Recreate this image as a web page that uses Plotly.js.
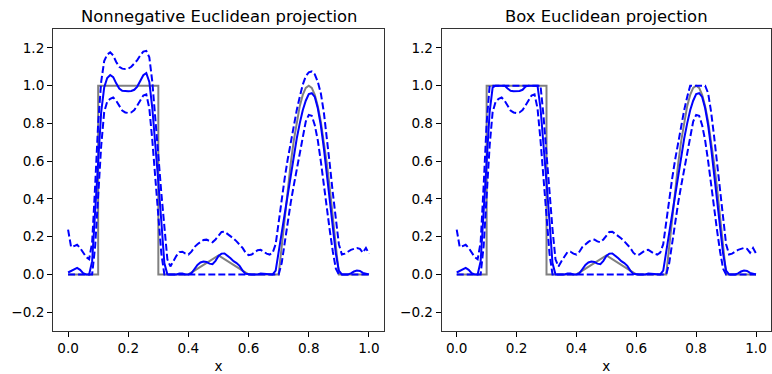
<!DOCTYPE html>
<html>
<head>
<meta charset="utf-8">
<script src="https://cdn.plot.ly/plotly-3.0.1.min.js"></script>
<style>html,body{margin:0;padding:0;background:#fff;}#chart{width:772px;height:374px;}</style>
</head>
<body>
<div id="chart"></div>
<script>
// shared x grid of the estimates
const xGrid = [0.00,0.01,0.02,0.03,0.04,0.05,0.06,0.07,0.08,0.09,
  0.10,0.11,0.12,0.13,0.14,0.15,0.16,0.17,0.18,0.19,
  0.20,0.21,0.22,0.23,0.24,0.25,0.26,0.27,0.28,0.29,
  0.30,0.31,0.32,0.33,0.34,0.35,0.36,0.37,0.38,0.39,
  0.40,0.41,0.42,0.43,0.44,0.45,0.46,0.47,0.48,0.49,
  0.50,0.51,0.52,0.53,0.54,0.55,0.56,0.57,0.58,0.59,
  0.60,0.61,0.62,0.63,0.64,0.65,0.66,0.67,0.68,0.69,
  0.70,0.71,0.72,0.73,0.74,0.75,0.76,0.77,0.78,0.79,
  0.80,0.81,0.82,0.83,0.84,0.85,0.86,0.87,0.88,0.89,
  0.90,0.91,0.92,0.93,0.94,0.95,0.96,0.97,0.98,0.99,1.00];

// true signal (gray)
const truthX = [0.0,0.1,0.1,0.3,0.3,0.4,0.5,0.6,0.7,0.71,0.72,0.73,0.74,0.75,0.76,0.77,0.78,0.79,0.80,0.81,0.82,0.83,0.84,0.85,0.86,0.87,0.88,0.89,0.90,1.0];
const truthY = [0.0,0.0,1.0,1.0,0.0,0.0,0.1,0.0,0.0,0.156,0.309,0.454,0.588,0.707,0.809,0.891,0.951,0.988,1.0,0.988,0.951,0.891,0.809,0.707,0.588,0.454,0.309,0.156,0.0,0.0];

// Nonnegative Euclidean projection
const meanNonneg = [0.010,0.018,0.030,0.034,0.024,0.006,0,0,0.07,0.34,
  0.61,0.86,0.99,1.04,1.056,1.045,1.012,0.985,0.973,0.970,
  0.970,0.972,0.978,0.995,1.025,1.055,1.066,1.02,0.88,0.70,
  0.49,0.28,0.06,0,0,0,0,0.004,0.004,0,
  0,0.006,0.03,0.05,0.063,0.068,0.066,0.057,0.054,0.072,
  0.098,0.11,0.111,0.10,0.085,0.07,0.06,0.045,0.02,0.003,
  0,0,0,0,0.004,0.003,0,0,0,0.02,
  0.12,0.22,0.32,0.43,0.53,0.63,0.72,0.80,0.87,0.92,
  0.955,0.96,0.94,0.88,0.79,0.67,0.53,0.38,0.24,0.11,
  0.02,0,0,0,0.005,0.015,0.02,0.018,0.008,0.002,0];
const upNonneg = [0.237,0.145,0.150,0.157,0.140,0.118,0.092,0.080,0.17,0.47,
  0.80,1.02,1.13,1.165,1.176,1.16,1.125,1.10,1.09,1.088,
  1.09,1.10,1.115,1.135,1.16,1.18,1.184,1.15,1.02,0.84,
  0.63,0.43,0.24,0.08,0.042,0.07,0.098,0.118,0.12,0.11,
  0.105,0.12,0.145,0.16,0.172,0.182,0.184,0.175,0.17,0.185,
  0.205,0.225,0.226,0.215,0.20,0.19,0.175,0.16,0.14,0.115,
  0.102,0.105,0.118,0.128,0.130,0.12,0.11,0.105,0.115,0.16,
  0.28,0.40,0.51,0.61,0.70,0.79,0.87,0.94,1.005,1.05,
  1.07,1.075,1.06,1.02,0.96,0.86,0.73,0.58,0.43,0.29,
  0.16,0.105,0.11,0.12,0.13,0.135,0.14,0.135,0.115,0.14,0.11];
const loNonneg = [0,0,0,0,0,0,0,0,0,0.15,
  0.42,0.68,0.86,0.915,0.93,0.937,0.92,0.89,0.868,0.858,
  0.855,0.858,0.87,0.895,0.925,0.948,0.954,0.88,0.71,0.51,
  0.31,0.11,0,0,0,0,0,0,0,0,
  0,0,0,0,0,0,0,0,0,0,
  0,0,0,0,0,0,0,0,0,0,
  0,0,0,0,0,0,0,0,0,0,
  0,0.06,0.17,0.28,0.38,0.47,0.56,0.65,0.74,0.81,
  0.845,0.84,0.79,0.71,0.60,0.47,0.35,0.23,0.12,0.03,
  0,0,0,0,0,0,0,0,0,0,0];

// Box Euclidean projection
const meanBox = [0.010,0.018,0.030,0.034,0.024,0.006,0,0,0.07,0.34,
  0.61,0.86,0.99,1.0,1.0,1.0,1.0,0.985,0.973,0.970,
  0.970,0.972,0.978,0.995,1.0,1.0,1.0,1.0,0.88,0.70,
  0.49,0.28,0.06,0,0,0,0,0.004,0.004,0,
  0,0.006,0.03,0.05,0.063,0.068,0.066,0.057,0.054,0.072,
  0.098,0.11,0.111,0.10,0.085,0.07,0.06,0.045,0.02,0.003,
  0,0,0,0,0.004,0.003,0,0,0,0.02,
  0.12,0.22,0.32,0.43,0.53,0.63,0.72,0.80,0.87,0.92,
  0.955,0.96,0.94,0.88,0.79,0.67,0.53,0.38,0.24,0.11,
  0.02,0,0,0,0.005,0.015,0.02,0.018,0.008,0.002,0];
const upBox = [0.237,0.145,0.150,0.157,0.140,0.118,0.092,0.080,0.17,0.47,
  0.80,1.0,1.0,1.0,1.0,1.0,1.0,1.0,1.0,1.0,
  1.0,1.0,1.0,1.0,1.0,1.0,1.0,1.0,1.0,0.84,
  0.63,0.43,0.24,0.08,0.042,0.07,0.098,0.118,0.12,0.11,
  0.105,0.12,0.145,0.16,0.172,0.182,0.184,0.175,0.17,0.185,
  0.205,0.225,0.226,0.215,0.20,0.19,0.175,0.16,0.14,0.115,
  0.102,0.105,0.118,0.128,0.130,0.12,0.11,0.105,0.115,0.16,
  0.28,0.40,0.51,0.61,0.70,0.79,0.87,0.94,1.0,1.0,
  1.0,1.0,1.0,1.0,0.96,0.86,0.73,0.58,0.43,0.29,
  0.16,0.105,0.11,0.12,0.13,0.135,0.14,0.135,0.115,0.14,0.11];
const loBox = [0,0,0,0,0,0,0,0,0,0.15,
  0.42,0.68,0.86,0.915,0.93,0.937,0.92,0.89,0.868,0.858,
  0.855,0.858,0.87,0.895,0.925,0.948,0.954,0.88,0.71,0.51,
  0.31,0.11,0,0,0,0,0,0,0,0,
  0,0,0,0,0,0,0,0,0,0,
  0,0,0,0,0,0,0,0,0,0,
  0,0,0,0,0,0,0,0,0,0,
  0,0.06,0.17,0.28,0.38,0.47,0.56,0.65,0.74,0.81,
  0.845,0.84,0.79,0.71,0.60,0.47,0.35,0.23,0.12,0.03,
  0,0,0,0,0,0,0,0,0,0,0];

const panelTitles = ['Nonnegative Euclidean projection', 'Box Euclidean projection'];
const xTicks = [0.0,0.2,0.4,0.6,0.8,1.0];
const yTicks = [-0.2,0.0,0.2,0.4,0.6,0.8,1.0,1.2];

const FONT = 'DejaVu Sans, sans-serif';
const BLUE = '#0000ff';
const GRAY = '#808080';

function panel(xa, ya, mean, up, lo) {
  return [
    {x: truthX, y: truthY, xaxis: xa, yaxis: ya, mode: 'lines', line: {color: GRAY, width: 2}},
    {x: xGrid, y: mean, xaxis: xa, yaxis: ya, mode: 'lines', line: {color: BLUE, width: 2}},
    {x: xGrid, y: up, xaxis: xa, yaxis: ya, mode: 'lines', line: {color: BLUE, width: 2, dash: '7px,3px'}},
    {x: xGrid, y: lo, xaxis: xa, yaxis: ya, mode: 'lines', line: {color: BLUE, width: 2, dash: '7px,3px'}}
  ];
}

const data = [].concat(
  panel('x', 'y', meanNonneg, upNonneg, loNonneg),
  panel('x2', 'y2', meanBox, upBox, loBox)
);

function xax(domain, anchor) {
  return {
    domain: domain, anchor: anchor, range: [-0.05, 1.05],
    tickvals: xTicks, tickformat: '.1f',
    ticks: 'outside', ticklen: 5, tickwidth: 1, tickcolor: '#000',
    showline: true, mirror: true, linecolor: '#333', linewidth: 1,
    showgrid: false, zeroline: false,
    tickfont: {family: FONT, size: 13.6, color: '#000'},
    title: {text: 'x', font: {family: FONT, size: 13.6, color: '#000'}, standoff: 7}
  };
}
function yax(anchor) {
  return {
    domain: [0, 1], anchor: anchor, range: [-0.3, 1.3],
    tickvals: yTicks, tickformat: '.1f',
    ticks: 'outside', ticklen: 5, tickwidth: 1, tickcolor: '#000',
    showline: true, mirror: true, linecolor: '#333', linewidth: 1,
    showgrid: false, zeroline: false,
    tickfont: {family: FONT, size: 13.6, color: '#000'}
  };
}

const layout = {
  width: 772, height: 374,
  margin: {l: 0, r: 0, t: 29, b: 43},
  paper_bgcolor: '#fff', plot_bgcolor: '#fff',
  showlegend: false,
  xaxis: xax([0.0687, 0.4974], 'y'),
  yaxis: yax('x'),
  xaxis2: xax([0.5722, 0.9987], 'y2'),
  yaxis2: yax('x2'),
  annotations: [
    {text: panelTitles[0], xref: 'paper', yref: 'paper', x: (0.0687 + 0.4974) / 2, y: 1, xanchor: 'center', yanchor: 'bottom', yshift: 1, showarrow: false, font: {family: FONT, size: 16.4, color: '#000'}},
    {text: panelTitles[1], xref: 'paper', yref: 'paper', x: (0.5722 + 0.9987) / 2, y: 1, xanchor: 'center', yanchor: 'bottom', yshift: 1, showarrow: false, font: {family: FONT, size: 16.4, color: '#000'}}
  ]
};

Plotly.newPlot('chart', data, layout, {displayModeBar: false, staticPlot: true});
</script>
</body>
</html>
